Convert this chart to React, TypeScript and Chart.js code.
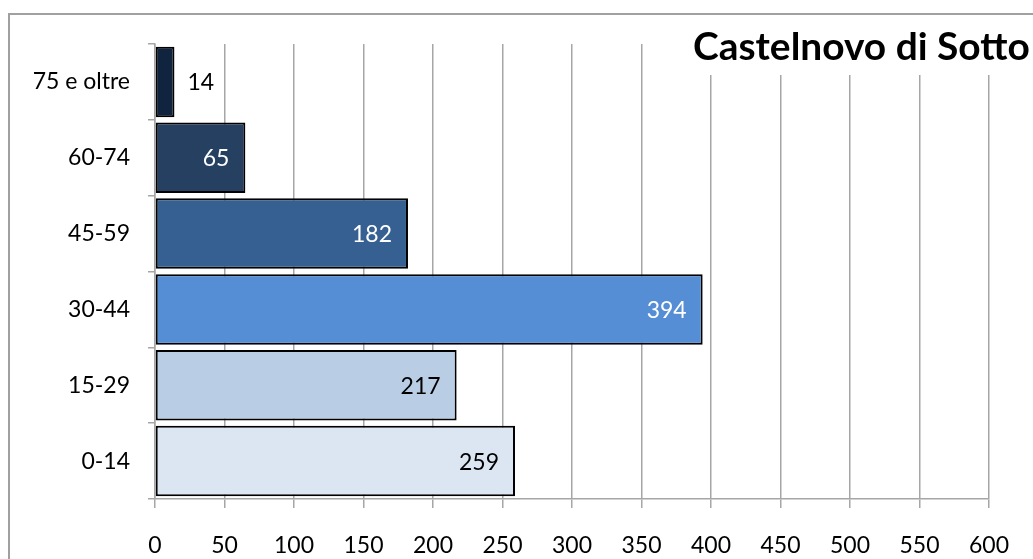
import React, { useEffect, useRef } from "react";
import { Chart, registerables } from "chart.js";

Chart.register(...registerables);

const categories = ["75 e oltre", "60-74", "45-59", "30-44", "15-29", "0-14"];
const values = [14, 65, 182, 394, 217, 259];
const barColors = ["#10243f", "#254061", "#376092", "#558ed5", "#b9cde5", "#dce6f2"];
const labelColors = ["#000000", "#ffffff", "#ffffff", "#ffffff", "#000000", "#000000"];
const labelInside = [false, true, true, true, true, true];
const titleText = "Castelnovo di Sotto";
const FONT = "Lato, 'Open Sans', sans-serif";

export default function App() {
  const ref = useRef<HTMLCanvasElement>(null);
  useEffect(() => {
    if (!ref.current) return;
    const framePlugin = {
      id: "frame",
      afterDraw(chart: any) {
        const ctx = chart.ctx;
        ctx.save();
        ctx.fillStyle = "#ffffff";
        ctx.fillRect(680, 15, 360, 60);
        ctx.fillStyle = "#000000";
        ctx.font = `bold 34px ${FONT}`;
        const w = ctx.measureText(titleText).width;
        const size = (34 * 337) / w;
        ctx.font = `bold ${size.toFixed(1)}px ${FONT}`;
        ctx.textAlign = "left";
        ctx.textBaseline = "middle";
        ctx.fillText(titleText, 693, 47);
        ctx.strokeStyle = "#a0a0a0";
        ctx.lineWidth = 2;
        ctx.strokeRect(9, 14, 1100, 700);
        ctx.restore();
      },
    };
    const labelPlugin = {
      id: "barLabels",
      afterDatasetsDraw(chart: any) {
        const ctx = chart.ctx;
        const meta = chart.getDatasetMeta(0);
        ctx.save();
        ctx.font = `23px ${FONT}`;
        ctx.textBaseline = "middle";
        meta.data.forEach((el: any, i: number) => {
          ctx.fillStyle = labelColors[i];
          if (labelInside[i]) {
            ctx.textAlign = "right";
            ctx.fillText(String(values[i]), el.x - 16, el.y + 1);
          } else {
            ctx.textAlign = "left";
            ctx.fillText(String(values[i]), el.x + 13, el.y + 1);
          }
        });
        ctx.restore();
      },
    };
    const chart = new Chart(ref.current, {
      type: "bar",
      data: {
        labels: categories,
        datasets: [
          {
            data: values,
            backgroundColor: barColors,
            borderColor: "#000000",
            borderWidth: 2,
            borderSkipped: false,
            barPercentage: 0.93,
            categoryPercentage: 1,
          },
        ],
      },
      options: {
        indexAxis: "y",
        animation: false,
        responsive: false,
        layout: { padding: { top: 44, right: 40, bottom: 0, left: 0 } },
        plugins: { legend: { display: false }, tooltip: { enabled: false }, title: { display: false } },
        scales: {
          x: {
            min: 0,
            max: 600,
            ticks: { stepSize: 50, color: "#000", font: { family: FONT, size: 23 }, padding: 24 },
            grid: { color: "#a6a6a6", lineWidth: 1.5, tickLength: 9 },
            border: { color: "#a6a6a6", width: 1.5 },
            afterFit: (s: any) => {
              s.height = 60;
            },
          },
          y: {
            ticks: { color: "#000", font: { family: FONT, size: 23 }, padding: 18 },
            grid: { drawOnChartArea: false, color: "#a6a6a6", lineWidth: 1.5, tickLength: 7, offset: true },
            border: { color: "#a6a6a6", width: 1.5 },
            afterFit: (s: any) => {
              s.width = 155;
            },
          },
        },
      },
      plugins: [labelPlugin, framePlugin],
    } as any);
    return () => chart.destroy();
  }, []);
  return (
    <div style={{ position: "absolute", left: 0, top: 0, width: 1033, height: 559, background: "#fff" }}>
      <canvas ref={ref} width={1033} height={559} style={{ width: 1033, height: 559 }} />
    </div>
  );
}
